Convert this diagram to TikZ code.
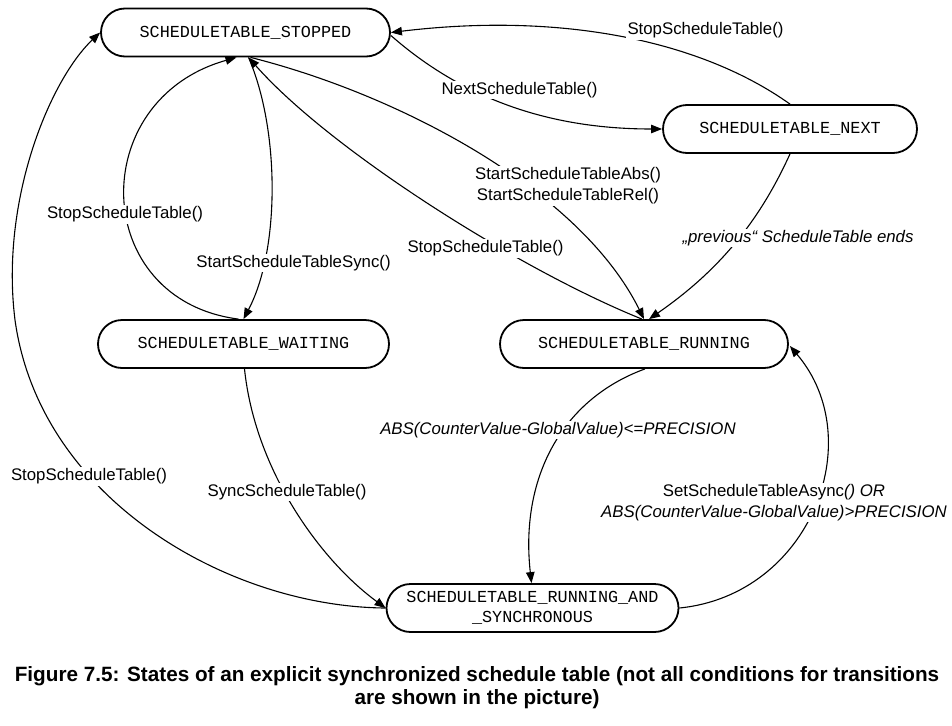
\documentclass[tikz,border=0pt]{standalone}
\usepackage{fontspec}
\setmainfont{Liberation Sans}
\setmonofont{Liberation Mono}
\usetikzlibrary{arrows.meta,calc}
\begin{document}
\begin{tikzpicture}[x=1pt,y=-1pt,
 state/.style={draw, line width=1.8pt, fill=white, rounded corners=24pt, minimum height=48pt, inner sep=0pt, font=\ttfamily\fontsize{16.8}{20}\selectfont, align=center},
 edge/.style={line width=1.1pt, -{Triangle[length=11pt,width=8.5pt]}},
 plain/.style={line width=1.1pt},
 lbl/.style={fill=white, inner sep=1.5pt, font=\fontsize{16.8}{21}\selectfont, align=center},
 ilbl/.style={lbl, font=\itshape\fontsize{16.8}{21}\selectfont},
]
\path[use as bounding box, fill=white] (0,0) rectangle (952,725);

% states
\node[state, minimum width=289pt] (stopped) at (245.5,32.5) {SCHEDULETABLE\_STOPPED};
\node[state, minimum width=254pt] (next) at (790,129) {SCHEDULETABLE\_NEXT};
\node[state, minimum width=291pt] (waiting) at (243.5,344) {SCHEDULETABLE\_WAITING};
\node[state, minimum width=288pt] (running) at (644,344) {SCHEDULETABLE\_RUNNING};
\node[state, minimum width=292pt] (sync) at (532.5,608) {SCHEDULETABLE\_RUNNING\_AND\\\_SYNCHRONOUS};

% connectors
\draw[edge] ($(stopped.east)+(0,3)$) .. controls (470,105) and (560,129) .. (next.west);
\draw[edge] (next.north) .. controls (700,40) and (560,12) .. (stopped.east);
\draw[edge] ($(stopped.south)+(5,0)$) .. controls (400,95) and (580,190) .. ($(running.north)+(0,0)$);
\draw[edge] ($(running.north)+(-2,0)$) .. controls (520,270) and (330,150) .. ($(stopped.south)+(3,0)$);
\draw[edge] ($(stopped.south)+(3,0)$) .. controls (280,130) and (280,250) .. (waiting.north);
\draw[edge] ($(waiting.north)+(-5,0)$) .. controls (90,300) and (85,100) .. ($(stopped.south)+(-9,0)$);
\draw[edge] ($(waiting.south)+(1,0)$) .. controls (255,470) and (320,560) .. (sync.west);
\coordinate (farleft) at (15,320);
\draw[edge] (sync.west) .. controls (230,607) and (40,500) .. (farleft) .. controls (0,200) and (50,80) .. (stopped.west);
\draw[edge] ($(running.south)+(1,0)$) .. controls (560,400) and (520,480) .. ($(sync.north)+(-1,0)$);
\draw[edge] (sync.east) .. controls (810,595) and (870,440) .. ($(running.east)+(1,2)$);
\draw[edge] (next.south) .. controls (760,220) and (720,270) .. ($(running.north)+(5,0)$);

% labels
\node[lbl] (l1) at (519.5,90) {NextScheduleTable()};
\node[lbl] (l2) at (705.5,30.5) {StopScheduleTable()};
\node[lbl] (l3) at (568,186) {StartScheduleTableAbs()\\StartScheduleTableRel()};
\node[lbl] (l4) at (485.5,248.5) {StopScheduleTable()};
\node[lbl] (l5) at (125,214.5) {StopScheduleTable()};
\node[lbl] (l6) at (293.5,263) {StartScheduleTableSync()};
\node[ilbl] (l7) at (798,238) {„previous“ ScheduleTable ends};
\node[lbl] (l8) at (287,492) {SyncScheduleTable()};
\node[lbl] (l9) at (89,476.5) {StopScheduleTable()};
\node[ilbl] (l10) at (558,430) {ABS(CounterValue-GlobalValue)<=PRECISION};
\node[lbl] (l11) at (774,502.5) {SetScheduleTableAsync\textit{() OR}\\\textit{ABS(CounterValue-GlobalValue)>PRECISION}};

% caption
\node[font=\bfseries\fontsize{20.7}{23}\selectfont, align=center, inner sep=0pt] (caption) at (477,688) {Figure 7.5: States of an explicit synchronized schedule table (not all conditions for transitions\\are shown in the picture)};
\end{tikzpicture}
\end{document}
